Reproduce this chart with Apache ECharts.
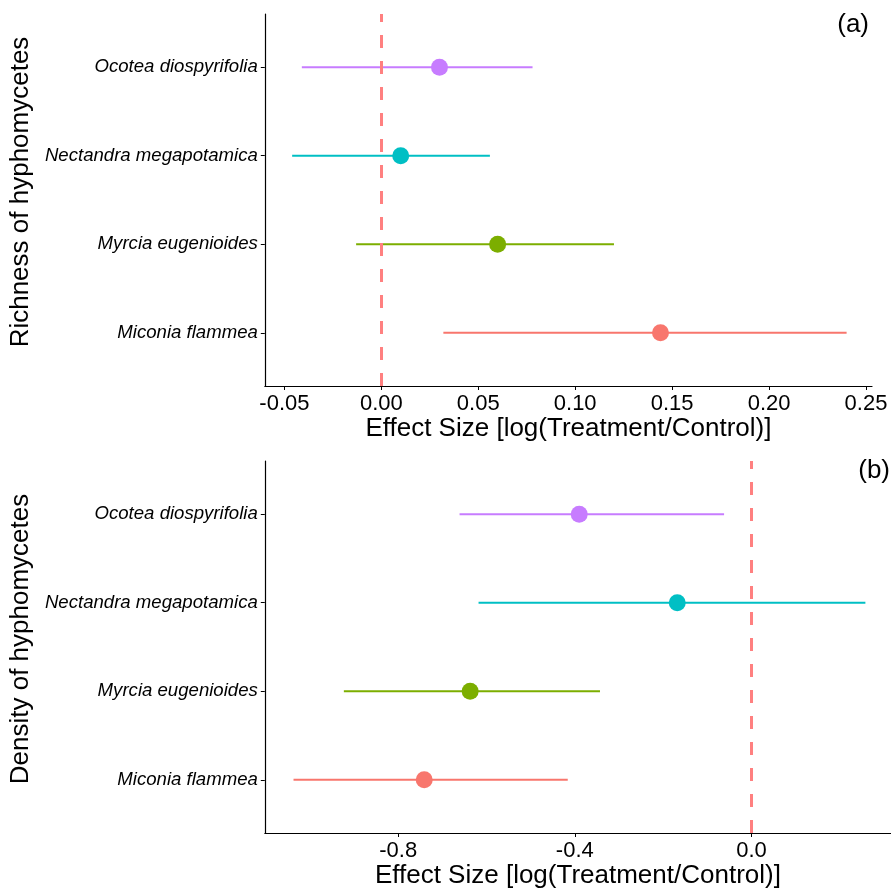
<!DOCTYPE html>
<html>
<head>
<meta charset="utf-8">
<script src="https://cdn.jsdelivr.net/npm/echarts@6/dist/echarts.min.js"></script>
<style>
html,body{margin:0;padding:0;background:#fff;}
#chart{width:891px;height:892px;}
</style>
</head>
<body>
<div id="chart"></div>
<script>
// ---- data (y position 1..4 from bottom) ----
const species = ['Miconia flammea', 'Myrcia eugenioides', 'Nectandra megapotamica', 'Ocotea diospyrifolia'];
const speciesColors = ['#F8766D', '#7CAE00', '#00BFC4', '#C77CFF'];

const richEst = [0.144, 0.060, 0.010, 0.030];
const richLo  = [0.032, -0.013, -0.046, -0.041];
const richHi  = [0.240, 0.120, 0.056, 0.078];

const densEst = [-0.741, -0.637, -0.168, -0.390];
const densLo  = [-1.037, -0.923, -0.618, -0.661];
const densHi  = [-0.416, -0.343, 0.258, -0.062];

const richTicks = [-0.05, 0.00, 0.05, 0.10, 0.15, 0.20, 0.25];
const densTicks = [-0.8, -0.4, 0.0];
const catTicks = [1, 2, 3, 4];

const richTitle = 'Richness of hyphomycetes';
const densTitle = 'Density of hyphomycetes';
const xTitle = 'Effect Size [log(Treatment/Control)]';

// ---- build ----
const FONT = '"Liberation Sans", Arial, Helvetica, sans-serif';
const chart = echarts.init(document.getElementById('chart'), null, {renderer: 'canvas'});

function barData(lo, hi) {
  return lo.map((v, i) => [i + 1, v, hi[i]]);
}
function pointData(est) {
  return est.map((v, i) => ({value: [v, i + 1], itemStyle: {color: speciesColors[i], opacity: 1}}));
}
function errRender(params, api) {
  const y = api.value(0);
  const p1 = api.coord([api.value(1), y]);
  const p2 = api.coord([api.value(2), y]);
  return {
    type: 'line',
    shape: {x1: p1[0], y1: p1[1], x2: p2[0], y2: p2[1]},
    style: {stroke: speciesColors[params.dataIndex], lineWidth: 2}
  };
}
function xAxisCfg(gridIndex, min, max, ticks, dec) {
  return {
    type: 'value', gridIndex, min, max,
    name: xTitle, nameLocation: 'middle', nameGap: 26,
    nameTextStyle: {fontFamily: FONT, fontSize: 26, color: '#000'},
    axisLine: {show: true, onZero: false, lineStyle: {color: '#000', width: 1.2}},
    axisTick: {show: true, length: 4, customValues: ticks, lineStyle: {color: '#000', width: 1}},
    axisLabel: {customValues: ticks, margin: 7, fontFamily: FONT, fontSize: 22, color: '#000',
      formatter: v => (Math.abs(v) < 1e-9 ? 0 : v).toFixed(dec)},
    splitLine: {show: false}
  };
}
function yAxisCfg(gridIndex, title) {
  return {
    type: 'value', gridIndex, min: 0.4, max: 4.6,
    name: title, nameLocation: 'middle', nameGap: 216, nameRotate: 90,
    nameTextStyle: {fontFamily: FONT, fontSize: 26, color: '#000', padding: [0, 0, 0, 16]},
    axisLine: {show: true, onZero: false, lineStyle: {color: '#000', width: 1.2}},
    axisTick: {show: true, length: 4, customValues: catTicks, lineStyle: {color: '#000', width: 1}},
    axisLabel: {customValues: catTicks, margin: 7, fontFamily: FONT, fontSize: 18.6, fontStyle: 'italic', color: '#000',
      formatter: v => species[Math.round(v) - 1] || ''},
    splitLine: {show: false}
  };
}
function refLine(idx) {
  return {
    type: 'line', xAxisIndex: idx, yAxisIndex: idx, data: [], z: 1, silent: true,
    markLine: {
      silent: true, symbol: ['none', 'none'], label: {show: false}, animation: false,
      lineStyle: {color: '#FF8080', width: 3, type: [13, 13]},
      data: [{xAxis: 0}]
    }
  };
}

const option = {
  backgroundColor: '#fff',
  animation: false,
  grid: [
    {left: 264, top: 14, width: 608, height: 372},
    {left: 264, top: 461, width: 627, height: 372}
  ],
  xAxis: [
    xAxisCfg(0, -0.0601, 0.2531, richTicks, 2),
    xAxisCfg(1, -1.102, 0.316, densTicks, 1)
  ],
  yAxis: [
    yAxisCfg(0, richTitle),
    yAxisCfg(1, densTitle)
  ],
  graphic: [
    {type: 'text', right: 22, top: 12, style: {text: '(a)', font: '26px ' + FONT, fill: '#000'}},
    {type: 'text', right: 1, top: 458, style: {text: '(b)', font: '26px ' + FONT, fill: '#000'}}
  ],
  series: [
    refLine(0),
    refLine(1),
    {type: 'custom', xAxisIndex: 0, yAxisIndex: 0, z: 2, renderItem: errRender,
      encode: {x: [1, 2], y: 0}, data: barData(richLo, richHi)},
    {type: 'custom', xAxisIndex: 1, yAxisIndex: 1, z: 2, renderItem: errRender,
      encode: {x: [1, 2], y: 0}, data: barData(densLo, densHi)},
    {type: 'scatter', xAxisIndex: 0, yAxisIndex: 0, z: 3, symbolSize: 17, data: pointData(richEst)},
    {type: 'scatter', xAxisIndex: 1, yAxisIndex: 1, z: 3, symbolSize: 17, data: pointData(densEst)}
  ]
};
chart.setOption(option);
</script>
</body>
</html>
